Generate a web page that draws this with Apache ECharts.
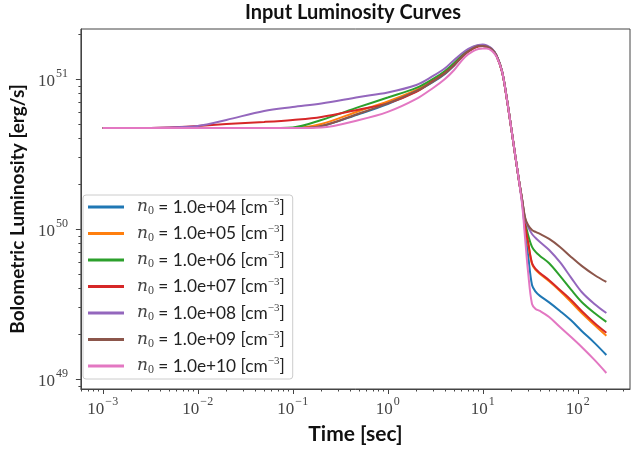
<!DOCTYPE html>
<html>
<head>
<meta charset="utf-8">
<script src="https://cdn.jsdelivr.net/npm/echarts@6/dist/echarts.min.js"></script>
<style>
  html, body { margin: 0; padding: 0; background: #fff; }
  #main { width: 631px; height: 451px; }
</style>
</head>
<body>
<div id="main"></div>
<script>
// time samples [sec]
var timeSec = [0.001, 0.002, 0.005, 0.01, 0.02, 0.05, 0.1, 0.2, 0.5, 1, 2, 3, 4, 5, 6.5, 8, 9, 10,
    11, 12.5, 14, 16, 18, 20, 22, 24, 26, 28, 30, 33, 36, 40, 50, 65, 85, 110, 150, 200];

// luminosity in units of 1e50 erg/s, one array per density
var lumN4 = [4.71, 4.71, 4.71, 4.71, 4.71, 4.71, 4.71, 4.86, 5.84, 6.81, 8.26, 9.55, 10.80, 12.30, 14.68, 16.09, 16.60, 16.60,
    16.47, 15.73, 14.23, 11.13, 7.24, 4.64, 3.07, 2.12, 1.49, 0.955, 0.671, 0.423, 0.382, 0.358, 0.324, 0.284, 0.246, 0.209, 0.174, 0.1445];
var lumN5 = [4.71, 4.71, 4.71, 4.71, 4.71, 4.71, 4.71, 5.01, 6.12, 7.08, 8.45, 9.70, 10.96, 12.40, 14.68, 16.09, 16.60, 16.60,
    16.47, 15.73, 14.23, 11.13, 7.24, 4.64, 3.07, 2.12, 1.54, 1.047, 0.806, 0.584, 0.533, 0.501, 0.448, 0.386, 0.326, 0.275, 0.229, 0.194];
var lumN6 = [4.71, 4.71, 4.71, 4.71, 4.71, 4.71, 4.75, 5.33, 6.51, 7.52, 8.71, 10.0, 11.31, 12.78, 15.02, 16.34, 16.72, 16.72,
    16.55, 15.8, 14.3, 11.2, 7.3, 4.66, 3.08, 2.13, 1.56, 1.113, 0.912, 0.759, 0.703, 0.661, 0.590, 0.486, 0.394, 0.326, 0.275, 0.240];
var lumN7 = [4.71, 4.71, 4.75, 4.86, 5.01, 5.17, 5.33, 5.58, 6.26, 6.87, 8.19, 9.70, 10.96, 12.40, 14.68, 15.97, 16.47, 16.60,
    16.47, 15.73, 14.23, 11.13, 7.24, 4.64, 3.07, 2.12, 1.54, 1.047, 0.819, 0.593, 0.541, 0.509, 0.455, 0.392, 0.336, 0.284, 0.236, 0.203];
var lumN8 = [4.71, 4.71, 4.75, 4.86, 5.33, 6.12, 6.51, 6.87, 7.59, 8.13, 9.12, 10.47, 11.78, 13.39, 15.37, 16.47, 16.85, 16.98,
    16.72, 15.9, 14.35, 11.2, 7.28, 4.66, 3.08, 2.13, 1.56, 1.166, 1.031, 0.926, 0.871, 0.819, 0.724, 0.600, 0.474, 0.380, 0.316, 0.275];
var lumN9 = [4.71, 4.71, 4.71, 4.71, 4.71, 4.71, 4.71, 4.86, 5.89, 6.87, 8.32, 9.62, 10.88, 12.40, 14.68, 16.09, 16.60, 16.60,
    16.47, 15.73, 14.23, 11.13, 7.24, 4.64, 3.07, 2.12, 1.56, 1.184, 1.063, 0.985, 0.955, 0.926, 0.858, 0.759, 0.651, 0.567, 0.493, 0.443];
var lumN10 = [4.71, 4.71, 4.71, 4.71, 4.71, 4.71, 4.71, 4.75, 5.33, 6.03, 7.36, 8.71, 10.0, 11.48, 14.02, 15.37, 15.85, 15.97,
    15.97, 15.37, 14.02, 11.13, 7.24, 4.64, 3.07, 2.12, 1.445, 0.845, 0.517, 0.316, 0.293, 0.284, 0.259, 0.222, 0.1905, 0.1634, 0.134, 0.1096];

var densityLabels = ['1.0e+04', '1.0e+05', '1.0e+06', '1.0e+07', '1.0e+08', '1.0e+09', '1.0e+10'];
var lumSets = [lumN4, lumN5, lumN6, lumN7, lumN8, lumN9, lumN10];
var colors = ['#1f77b4', '#ff7f0e', '#2ca02c', '#d62728', '#9467bd', '#8c564b', '#e377c2'];
var LUM_UNIT = 1e50;

// axis ticks (decade exponents)
var xDecades = [-3, -2, -1, 0, 1, 2];
var yDecades = [49, 50, 51];
var xMin = -3.23, xMax = 2.55;
var yMin = 48.933, yMax = 51.333;

function minorTicks(lo, hi) {
    var out = [];
    for (var n = Math.floor(lo) - 1; n <= Math.ceil(hi); n++) {
        for (var k = 2; k <= 9; k++) {
            var v = n + Math.log10(k);
            if (v > lo && v < hi) out.push(v);
        }
    }
    return out;
}

function powLabel(v) {
    var e = Math.round(v);
    var s = e < 0 ? '\u2212' + (-e) : '' + e;
    return '{b|10}{s|' + s + '}';
}

var tickRich = {
    b: { fontFamily: 'Liberation Serif', fontSize: 17, color: '#444', lineHeight: 22, verticalAlign: 'bottom' },
    s: { fontFamily: 'Liberation Serif', fontSize: 12, color: '#444', lineHeight: 11, verticalAlign: 'top', padding: [0, 0, 0, 1] }
};

var series = lumSets.map(function (arr, i) {
    return {
        name: densityLabels[i],
        type: 'line',
        xAxisIndex: 0,
        yAxisIndex: 0,
        showSymbol: false,
        symbol: 'none',
        smooth: 0.35,
        lineStyle: { width: 2, color: colors[i] },
        itemStyle: { color: colors[i] },
        data: timeSec.map(function (t, j) {
            return [Math.log10(t), Math.log10(arr[j] * LUM_UNIT)];
        })
    };
});

var myChart = echarts.init(document.getElementById('main'));
var option = {
    animation: false,
    backgroundColor: '#fff',
    title: {
        text: 'Input Luminosity Curves',
        left: 353,
        textAlign: 'center',
        top: 3,
        padding: 0,
        textStyle: { fontFamily: 'Lato', fontWeight: 'bold', fontSize: 20, color: '#111' }
    },
    grid: {
        left: 76, right: 1, top: 29, bottom: 62,
        show: true, borderColor: '#444', borderWidth: 1
    },
    legend: {
        orient: 'vertical',
        left: 83,
        top: 195,
        icon: 'rect',
        itemWidth: 36,
        itemHeight: 3,
        itemGap: 6.5,
        padding: [2, 8, 3, 5],
        backgroundColor: 'rgba(255,255,255,0.85)',
        borderColor: '#cccccc',
        borderWidth: 1,
        borderRadius: 3,
        data: densityLabels,
        formatter: function (name) {
            return '{n|n}{sub|0}{t| = ' + name + ' [cm}{sup|\u22123}{t|]}';
        },
        textStyle: {
            rich: {
                n: { fontFamily: 'DejaVu Serif', fontStyle: 'italic', fontSize: 17, color: '#444', lineHeight: 20, padding: [0, 0, 0, 8] },
                sub: { fontFamily: 'Liberation Serif', fontSize: 12, color: '#444', lineHeight: 9, verticalAlign: 'bottom' },
                t: { fontFamily: 'Lato', fontSize: 17.3, color: '#222', lineHeight: 20 },
                sup: { fontFamily: 'Liberation Serif', fontSize: 11, color: '#444', lineHeight: 9, verticalAlign: 'top' }
            }
        }
    },
    xAxis: [{
        type: 'value',
        min: xMin, max: xMax,
        position: 'bottom',
        name: 'Time [sec]',
        nameLocation: 'middle',
        nameGap: 35,
        nameTextStyle: { fontFamily: 'Lato', fontWeight: 'bold', fontSize: 21, color: '#111' },
        axisLine: { show: true, onZero: false, lineStyle: { color: '#444', width: 1 } },
        axisTick: { show: true, length: 5, customValues: xDecades, lineStyle: { color: '#444' } },
        axisLabel: { customValues: xDecades, margin: 7, formatter: powLabel, rich: tickRich },
        splitLine: { show: false }
    }, {
        type: 'value',
        min: xMin, max: xMax,
        position: 'bottom',
        axisLine: { show: false, onZero: false },
        axisTick: { show: true, length: 2.5, customValues: minorTicks(xMin, xMax), lineStyle: { color: '#444' } },
        axisLabel: { show: false },
        splitLine: { show: false }
    }],
    yAxis: [{
        type: 'value',
        min: yMin, max: yMax,
        position: 'left',
        name: 'Bolometric Luminosity [erg/s]',
        nameLocation: 'middle',
        nameGap: 52,
        nameTextStyle: { fontFamily: 'Lato', fontWeight: 'bold', fontSize: 19, color: '#111' },
        axisLine: { show: true, onZero: false, lineStyle: { color: '#444', width: 1 } },
        axisTick: { show: true, length: 5, customValues: yDecades, lineStyle: { color: '#444' } },
        axisLabel: { customValues: yDecades, margin: 13, formatter: powLabel, rich: tickRich },
        splitLine: { show: false }
    }, {
        type: 'value',
        min: yMin, max: yMax,
        position: 'left',
        axisLine: { show: false, onZero: false },
        axisTick: { show: true, length: 2.5, customValues: minorTicks(yMin, yMax), lineStyle: { color: '#444' } },
        axisLabel: { show: false },
        splitLine: { show: false }
    }],
    series: series
};
myChart.setOption(option);
</script>
</body>
</html>
